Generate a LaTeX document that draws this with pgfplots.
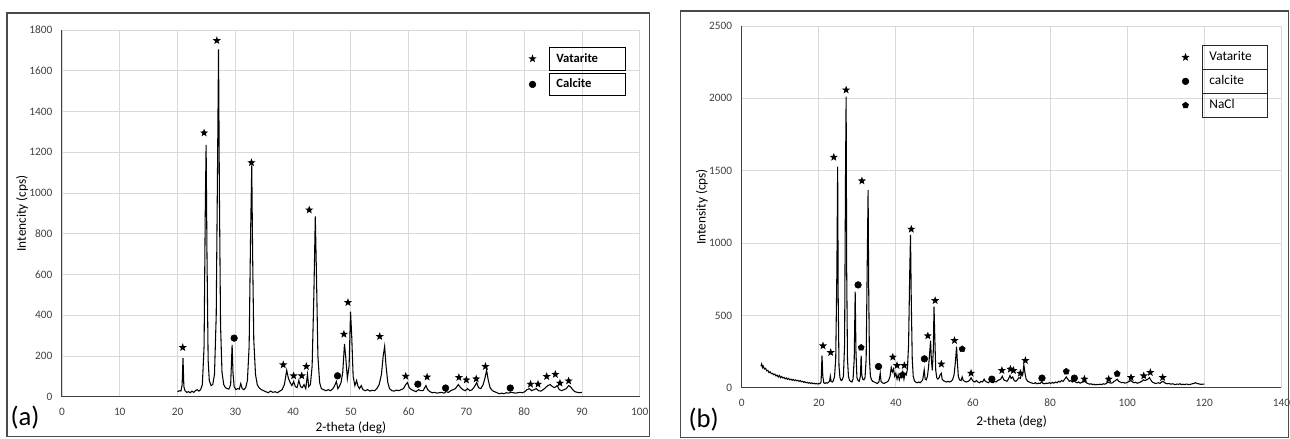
\documentclass[border=0pt]{standalone}
\usepackage{fontspec}
\setmainfont{Carlito}
\usepackage{pgfplots}
\pgfplotsset{compat=1.18}
\usetikzlibrary{plotmarks}

\definecolor{gridgray}{HTML}{D9D9D9}
\definecolor{ticktext}{HTML}{404040}
\definecolor{framegray}{HTML}{4A4A4A}

% filled five-pointed star
\pgfdeclareplotmark{fstar}{%
  \pgfpathmoveto{\pgfpointpolar{90}{\pgfplotmarksize}}%
  \pgfpathlineto{\pgfpointpolar{126}{0.42\pgfplotmarksize}}%
  \pgfpathlineto{\pgfpointpolar{162}{\pgfplotmarksize}}%
  \pgfpathlineto{\pgfpointpolar{198}{0.42\pgfplotmarksize}}%
  \pgfpathlineto{\pgfpointpolar{234}{\pgfplotmarksize}}%
  \pgfpathlineto{\pgfpointpolar{270}{0.42\pgfplotmarksize}}%
  \pgfpathlineto{\pgfpointpolar{306}{\pgfplotmarksize}}%
  \pgfpathlineto{\pgfpointpolar{342}{0.42\pgfplotmarksize}}%
  \pgfpathlineto{\pgfpointpolar{18}{\pgfplotmarksize}}%
  \pgfpathlineto{\pgfpointpolar{54}{0.42\pgfplotmarksize}}%
  \pgfpathclose\pgfusepathqfill}

\pgfplotsset{
  xrd/.style={
    scale only axis, axis lines=left,
    axis line style={black!75, line width=0.75pt, -},
    grid=major, major grid style={gridgray, line width=0.6pt},
    major tick length=0pt, xmin=0, ymin=0,
    tick label style={font=\fontsize{8.5}{9}\selectfont, text=ticktext, inner sep=0pt},
    yticklabel style={xshift=-7pt},
    xticklabel style={yshift=-8pt},
    /pgf/number format/assume math mode=true,
    /pgf/number format/1000 sep={},
    scaled y ticks=false,
    label style={font=\bfseries\fontsize{8.5}{9}\selectfont, text=black!85},
    legend cell align=left,
    legend image code/.code={\draw[#1] plot coordinates {(0pt,0pt)};},
  },
  trace/.style={black, line width=0.8pt, mark=none},
  vat/.style={only marks, mark=fstar, mark size=3.2pt, black},
  cal/.style={only marks, mark=*, mark size=2.5pt, black},
  nacl/.style={only marks, mark=pentagon*, mark size=2.4pt, black},
}

\begin{document}
\begin{tikzpicture}
\begin{scope}[x=0.75pt, y=0.75pt]
\path[use as bounding box] (0,0) rectangle (1290,439);
% panel frames
\draw[framegray, line width=0.9pt] (7,2) rectangle (650,426);
\draw[framegray, line width=0.9pt] (681,1) rectangle (1289,428);
\node[font=\fontsize{20}{20}\selectfont] at (25,21) {(a)};
\node[font=\fontsize{20}{20}\selectfont] at (704,19) {(b)};
\end{scope}

% ---------------- (a)
\begin{axis}[xrd,
  at={(46.5pt,31.5pt)}, anchor=origin,
  width=433.5pt, height=275.25pt,
  xmax=100, ymax=1800,
  xtick={0,10,...,100}, ytick={0,200,...,1800},
  xlabel={2-theta (deg)}, ylabel={Intencity (cps)},
  every axis x label/.style={at={(axis description cs:0.5,-0.084)}, anchor=center},
  every axis y label/.style={at={(axis description cs:-0.069,0.5)}, rotate=90, anchor=center},
  legend style={draw=none, fill=none, at={(axis description cs:0.983,0.962)},
    anchor=north east, row sep=1.5pt, nodes={inner sep=0pt},
    /tikz/every odd column/.append style={column sep=9pt},
    /tikz/every even column/.append style={nodes={draw=black, line width=0.8pt,
      text width=46pt, align=left, inner xsep=5.5pt, minimum height=17pt}},
    font=\bfseries\fontsize{9.5}{10}\selectfont},
]
\addplot[trace, forget plot] coordinates {
(20.0,25) (20.3,30) (20.6,28) (20.8,60) (20.95,190) (21.1,50) (21.3,30) (21.6,22)
(21.9,25) (22.2,20) (22.5,28) (22.8,22) (23.1,30) (23.4,35) (23.7,28) (24.0,35)
(24.3,60) (24.6,250) (24.8,900) (24.95,1236) (25.1,700) (25.3,180) (25.5,80) (25.8,55)
(26.1,60) (26.4,110) (26.7,400) (26.95,1200) (27.1,1705) (27.25,1000) (27.45,350) (27.7,120)
(28.0,60) (28.3,45) (28.6,40) (28.9,38) (29.2,60) (29.45,255) (29.6,120) (29.8,50)
(30.1,35) (30.4,40) (30.7,38) (30.95,65) (31.2,40) (31.5,35) (31.8,45) (32.1,80)
(32.4,250) (32.65,800) (32.85,1135) (33.0,700) (33.2,280) (33.5,110) (33.8,60) (34.1,45)
(34.5,35) (34.9,30) (35.3,25) (35.7,20) (36.1,28) (36.5,22) (36.9,25) (37.3,20)
(37.7,28) (38.1,35) (38.5,60) (38.9,130) (39.2,90) (39.5,70) (39.8,55) (40.1,75)
(40.4,50) (40.7,45) (41.0,80) (41.3,50) (41.6,45) (41.9,60) (42.2,40) (42.5,110)
(42.7,50) (43.0,60) (43.3,150) (43.6,500) (43.85,885) (44.05,600) (44.3,200) (44.6,70)
(44.9,40) (45.3,35) (45.7,30) (46.1,35) (46.5,30) (46.9,40) (47.2,55) (47.5,75)
(47.75,40) (48.0,50) (48.3,70) (48.6,120) (48.9,260) (49.1,200) (49.4,90) (49.7,150)
(49.95,418) (50.15,300) (50.4,100) (50.7,55) (51.0,80) (51.2,55) (51.5,40) (51.8,55)
(52.1,35) (52.5,30) (52.9,35) (53.3,28) (53.7,32) (54.1,30) (54.5,40) (54.9,60)
(55.3,110) (55.6,200) (55.85,247) (56.1,150) (56.4,70) (56.7,40) (57.1,30) (57.5,28)
(57.9,33) (58.3,30) (58.7,35) (59.1,40) (59.5,60) (59.8,70) (60.1,45) (60.5,35)
(60.9,30) (61.3,25) (61.7,35) (62.1,30) (62.5,30) (62.8,45) (63.0,55) (63.3,35)
(63.7,25) (64.1,20) (64.5,22) (64.9,18) (65.3,20) (65.7,22) (66.1,18) (66.5,25)
(66.9,22) (67.3,30) (67.7,35) (68.1,40) (68.6,60) (69.0,45) (69.4,35) (69.8,30)
(70.2,40) (70.6,30) (71.0,35) (71.4,50) (71.8,70) (72.1,45) (72.5,40) (72.9,60)
(73.2,90) (73.5,130) (73.8,80) (74.1,45) (74.5,30) (74.9,25) (75.3,20) (75.7,15)
(76.1,18) (76.5,15) (76.9,20) (77.3,18) (77.7,22) (78.1,20) (78.5,18) (78.9,20)
(79.3,22) (79.7,20) (80.1,25) (80.5,35) (80.9,40) (81.3,30) (81.7,35) (82.1,40)
(82.5,30) (82.9,28) (83.3,35) (83.7,45) (84.1,55) (84.5,60) (84.9,50) (85.3,45)
(85.7,55) (86.1,35) (86.5,30) (86.9,35) (87.3,40) (87.7,55) (88.0,50) (88.4,35)
(88.8,25) (89.2,22) (89.6,20) (90.0,22)
};
\addplot[vat] coordinates {
(20.9,242) (24.6,1295) (26.8,1748) (32.8,1149) (38.3,157) (40.1,103) (41.5,103)
(42.3,149) (42.8,917) (48.8,307) (49.5,463) (55.0,296) (59.5,101) (63.2,97)
(68.7,95) (70.0,83) (71.7,88) (73.3,149) (81.1,62) (82.4,62) (83.9,100)
(85.4,110) (86.2,67) (87.7,78)
};
\addlegendentry{Vatarite}
\addplot[cal] coordinates {
(29.8,288) (47.7,103) (61.6,62) (66.4,43) (77.6,43)
};
\addlegendentry{Calcite}
\end{axis}

% ---------------- (b)
\begin{axis}[xrd,
  at={(556.5pt,38.25pt)}, anchor=origin,
  width=405pt, height=271.5pt,
  xmax=140, ymax=2500,
  xtick={0,20,...,140}, ytick={0,500,...,2500},
  xlabel={2-theta (deg)}, ylabel={Intensity (cps)},
  every axis x label/.style={at={(axis description cs:0.5,-0.094)}, anchor=center},
  every axis y label/.style={at={(axis description cs:-0.074,0.5)}, rotate=90, anchor=center},
  legend style={draw=none, fill=none, at={(axis description cs:0.983,0.956)},
    anchor=north east, row sep=-0.8pt, nodes={inner sep=0pt},
    /tikz/every odd column/.append style={column sep=9pt},
    /tikz/every even column/.append style={nodes={draw=black!85, line width=0.8pt,
      text width=38pt, align=left, inner xsep=5.5pt, minimum height=18pt}},
    font=\fontsize{10}{11}\selectfont},
]
\addplot[trace, forget plot] coordinates {
(5.0,150) (5.2,165) (5.4,140) (5.6,150) (5.9,130) (6.2,135) (6.5,118) (6.8,120)
(7.1,105) (7.4,110) (7.7,98) (8.0,100) (8.3,90) (8.6,95) (8.9,82) (9.2,88)
(9.5,75) (9.8,85) (10.1,70) (10.4,78) (10.7,68) (11.0,72) (11.3,62) (11.6,68)
(11.9,58) (12.2,65) (12.5,55) (12.8,60) (13.1,52) (13.4,58) (13.7,50) (14.0,55)
(14.3,48) (14.6,52) (14.9,45) (15.2,50) (15.5,42) (15.8,45) (16.1,38) (16.4,42)
(16.7,35) (17.0,38) (17.3,32) (17.6,36) (17.9,30) (18.2,34) (18.5,28) (18.8,32)
(19.1,27) (19.4,30) (19.7,26) (20.0,30) (20.3,28) (20.6,40) (20.85,223) (21.05,80)
(21.3,35) (21.6,30) (21.9,35) (22.2,32) (22.5,38) (22.8,45) (23.0,80) (23.2,45)
(23.5,40) (23.8,50) (24.1,80) (24.4,200) (24.7,800) (24.9,1528) (25.05,600) (25.25,150)
(25.5,70) (25.8,50) (26.1,55) (26.4,80) (26.7,300) (26.95,1500) (27.1,2012) (27.25,800)
(27.45,200) (27.7,80) (28.0,50) (28.3,45) (28.6,40) (28.9,60) (29.2,200) (29.45,665)
(29.65,250) (29.9,70) (30.2,50) (30.5,45) (30.8,80) (31.0,223) (31.15,90) (31.4,60)
(31.7,55) (32.0,70) (32.3,200) (32.55,800) (32.8,1367) (32.95,700) (33.15,200) (33.4,80)
(33.7,55) (34.0,45) (34.4,40) (34.8,35) (35.2,30) (35.6,40) (35.95,101) (36.15,45)
(36.5,35) (36.9,30) (37.3,35) (37.7,40) (38.1,50) (38.5,80) (38.8,140) (39.1,110)
(39.4,130) (39.7,80) (40.0,100) (40.3,60) (40.6,90) (40.9,55) (41.2,80) (41.5,70)
(41.8,110) (42.1,60) (42.4,100) (42.7,90) (43.0,130) (43.3,300) (43.6,800) (43.8,1057)
(44.0,600) (44.25,200) (44.5,80) (44.8,50) (45.1,40) (45.5,35) (45.9,40) (46.3,35)
(46.7,45) (47.0,60) (47.35,124) (47.6,60) (47.9,55) (48.2,80) (48.5,150) (48.8,250)
(49.0,325) (49.2,200) (49.45,120) (49.7,250) (49.9,561) (50.1,350) (50.35,120) (50.6,70)
(50.9,60) (51.2,70) (51.5,90) (51.8,100) (52.0,60) (52.3,50) (52.7,45) (53.1,40)
(53.5,45) (53.9,40) (54.3,45) (54.7,55) (55.1,90) (55.45,180) (55.75,285) (55.95,180)
(56.2,80) (56.5,55) (56.9,50) (57.2,75) (57.5,50) (57.9,45) (58.3,40) (58.7,45)
(59.1,50) (59.5,70) (59.8,55) (60.1,45) (60.5,40) (60.9,50) (61.3,40) (61.7,35)
(62.1,45) (62.5,40) (62.9,60) (63.2,45) (63.6,40) (64.0,35) (64.4,45) (64.8,40)
(65.2,35) (65.6,45) (66.0,40) (66.4,50) (66.8,55) (67.2,60) (67.6,80) (68.0,55)
(68.4,50) (68.8,45) (69.2,60) (69.6,85) (69.9,65) (70.3,75) (70.7,50) (71.1,45)
(71.5,55) (71.9,70) (72.3,65) (72.6,100) (72.9,90) (73.2,159) (73.5,100) (73.8,60)
(74.2,45) (74.6,40) (75.0,35) (75.4,32) (75.8,30) (76.2,35) (76.6,28) (77.0,32)
(77.4,30) (77.8,40) (78.2,30) (78.6,28) (79.0,32) (79.4,30) (79.8,35) (80.2,30)
(80.6,38) (81.0,32) (81.4,40) (81.8,35) (82.2,45) (82.6,40) (83.0,50) (83.4,45)
(83.8,60) (84.2,75) (84.6,60) (85.0,45) (85.4,50) (85.8,40) (86.2,48) (86.6,40)
(87.0,35) (87.4,40) (87.8,32) (88.2,38) (88.6,40) (89.0,45) (89.4,35) (89.8,30)
(90.2,25) (90.6,28) (91.0,22) (91.4,25) (91.8,20) (92.2,24) (92.6,22) (93.0,25)
(93.4,22) (93.8,28) (94.2,25) (94.6,30) (95.0,40) (95.4,35) (95.8,32) (96.2,35)
(96.6,45) (97.0,50) (97.4,60) (97.8,45) (98.2,40) (98.6,35) (99.0,38) (99.4,32)
(99.8,35) (100.2,40) (100.6,45) (101.0,50) (101.4,40) (101.8,35) (102.2,38) (102.6,32)
(103.0,35) (103.4,40) (103.8,45) (104.2,55) (104.6,50) (105.0,55) (105.4,60) (105.8,70)
(106.1,55) (106.5,40) (106.9,35) (107.3,30) (107.7,32) (108.1,35) (108.5,30) (108.9,40)
(109.3,45) (109.7,35) (110.1,30) (110.5,28) (110.9,30) (111.3,25) (111.7,28) (112.1,25)
(112.5,22) (112.9,26) (113.3,24) (113.7,28) (114.1,22) (114.5,25) (114.9,22) (115.3,26)
(115.7,24) (116.1,22) (116.5,25) (116.9,28) (117.3,30) (117.7,35) (118.1,30) (118.5,28)
(118.9,25) (119.3,24) (119.7,26) (120.0,25)
};
\addplot[vat] coordinates {
(21.1,290) (23.1,244) (23.9,1593) (27.1,2058) (31.2,1430) (39.2,212) (40.3,154)
(42.2,154) (44.0,1096) (48.3,359) (50.2,603) (51.8,164) (55.2,327) (59.5,101)
(67.5,120) (69.7,129) (70.5,120) (72.3,101) (73.6,189) (88.9,60) (95.2,60)
(101.0,71) (104.3,83) (106.0,106) (109.2,71)
};
\addlegendentry{Vatarite}
\addplot[cal] coordinates {
(30.2,711) (35.5,147) (47.4,200) (64.9,60) (77.9,67) (86.3,67)
};
\addlegendentry{calcite}
\addplot[nacl] coordinates {
(31.0,278) (41.7,90) (57.2,268) (84.2,113) (97.4,97)
};
\addlegendentry{NaCl}
\end{axis}
\end{tikzpicture}
\end{document}
